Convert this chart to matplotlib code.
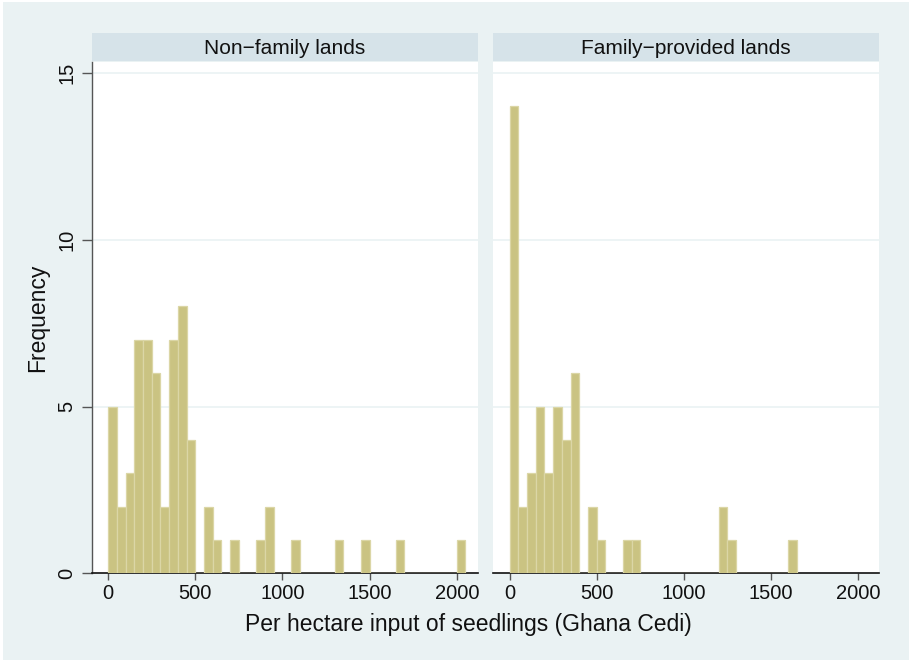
import matplotlib
matplotlib.use("Agg")
import matplotlib.pyplot as plt
from matplotlib.patches import Rectangle

# Histogram counts per 50-cedi bin, bins starting at 0
bin_start = 0
bin_width = 50
nonfamily_counts = [5, 2, 3, 7, 7, 6, 2, 7, 8, 4,
                    0, 2, 1, 0, 1, 0, 0, 1, 2, 0,
                    0, 1, 0, 0, 0, 0, 1, 0, 0, 1,
                    0, 0, 0, 1, 0, 0, 0, 0, 0, 0,
                    1]
family_counts = [14, 2, 3, 5, 3, 5, 4, 6, 0, 2,
                 1, 0, 0, 1, 1, 0, 0, 0, 0, 0,
                 0, 0, 0, 0, 2, 1, 0, 0, 0, 0,
                 0, 0, 1]
panel_titles = ["Non\u2212family lands", "Family\u2212provided lands"]
x_ticks = [0, 500, 1000, 1500, 2000]
y_ticks = [0, 5, 10, 15]

BG = "#EAF2F3"
HEADER = "#D6E3E9"
BAR = "#CAC382"
BAR_EDGE = "#DBD6A6"

plt.rcParams["font.family"] = ["Liberation Sans", "DejaVu Sans"]

W, H = 909, 662
fig = plt.figure(figsize=(W / 100, H / 100), dpi=100, facecolor="white")
fig.patches.append(Rectangle((3 / W, 2 / H), 1 - 3 / W, 1 - 4 / H,
                             transform=fig.transFigure, facecolor=BG,
                             edgecolor="none", zorder=-10))


def fx(px):
    return px / W


def fy(py):
    return 1 - py / H


panel_left = [92, 493.3]
panel_w = 385.7
plot_top, plot_bot = 62, 573.3
head_top, head_bot = 33, 61.3

for i, counts in enumerate([nonfamily_counts, family_counts]):
    x0 = panel_left[i]
    # strip header
    hax = fig.add_axes([fx(x0), fy(head_bot), panel_w / W, (head_bot - head_top) / H])
    hax.set_facecolor(HEADER)
    hax.set_xticks([])
    hax.set_yticks([])
    for s in hax.spines.values():
        s.set_visible(False)
    hax.text(0.5, 0.45, panel_titles[i], ha="center", va="center",
             fontsize=15, color="#111111", transform=hax.transAxes)

    ax = fig.add_axes([fx(x0), fy(plot_bot), panel_w / W, (plot_bot - plot_top) / H])
    ax.set_facecolor("white")
    lefts = [bin_start + k * bin_width for k in range(len(counts))]
    ax.bar(lefts, counts, width=bin_width, align="edge", color=BAR,
           edgecolor=BAR_EDGE, linewidth=0.9, zorder=3)
    ax.set_xlim(-93, 2120)
    ax.set_ylim(0, 15.33)
    ax.set_xticks(x_ticks)
    ax.set_yticks(y_ticks)
    for yv in y_ticks[1:]:
        ax.axhline(yv, color=BG, linewidth=1.2, zorder=1)
    for side in ["top", "right"]:
        ax.spines[side].set_visible(False)
    ax.spines["bottom"].set_color("#111111")
    ax.spines["bottom"].set_linewidth(1.2)
    ax.tick_params(axis="x", direction="out", length=5, width=1, color="#555555",
                   labelsize=14.5, pad=3, labelcolor="#111111")
    if i == 0:
        ax.spines["left"].set_color("#555555")
        ax.spines["left"].set_linewidth(1.0)
        ax.tick_params(axis="y", direction="out", length=7, width=1, color="#555555",
                       labelsize=14.5, pad=4, labelcolor="#111111", labelrotation=90)
        for lab in ax.get_yticklabels():
            lab.set_verticalalignment("center")
        ax.set_ylabel("Frequency", fontsize=16.5, labelpad=6, color="#111111")
    else:
        ax.spines["left"].set_visible(False)
        ax.tick_params(axis="y", left=False, labelleft=False)

fig.text(fx(468), fy(625), "Per hectare input of seedlings (Ghana Cedi)",
         ha="center", va="center", fontsize=16.5, color="#111111")

fig.savefig("out.png", dpi=100, facecolor="white")
